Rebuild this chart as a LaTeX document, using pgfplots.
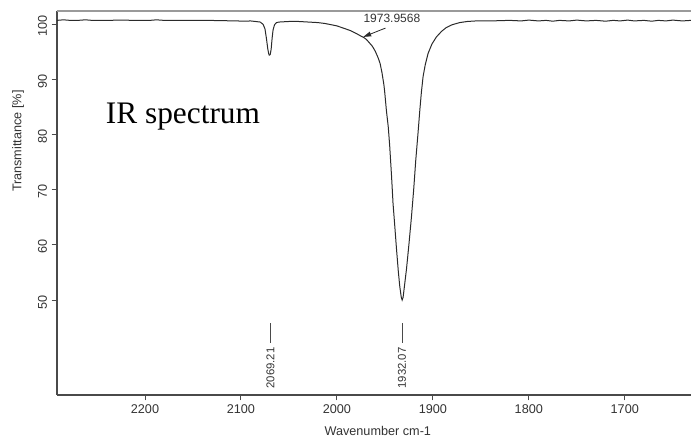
\documentclass[border=0pt]{standalone}
\usepackage{fontspec}
\setmainfont{Liberation Sans}
\newfontfamily\timesfont{Liberation Serif}
\usepackage{pgfplots}
\pgfplotsset{compat=1.18}
\usetikzlibrary{arrows.meta}

\definecolor{curvecol}{HTML}{2A2A2A}
\definecolor{axiscol}{HTML}{4A4A4A}
\definecolor{framegray}{HTML}{9A9A9A}
\definecolor{txt}{HTML}{333333}

\begin{document}
\begin{tikzpicture}
\begin{axis}[
  name=ax,
  scale only axis,
  width=475.5pt, height=288pt,
  x dir=reverse,
  xmin=1631, xmax=2291.7,
  ymin=32.8, ymax=102.4,
  axis x line*=bottom, axis y line*=left,
  axis line style={axiscol, line width=0.8pt, -},
  tick align=outside,
  major tick length=4pt,
  tick style={axiscol, line width=0.7pt},
  xtick={1700,1800,1900,2000,2100,2200},
  ytick={50,60,70,80,90,100},
  /pgf/number format/assume math mode=true,
  /pgf/number format/1000 sep={},
  tick label style={font=\fontsize{9.5}{10}\selectfont, text=txt},
  yticklabel style={rotate=90, anchor=south, xshift=-1.5pt},
  xlabel={Wavenumber cm-1},
  ylabel={Transmittance [\%]},
  every axis x label/.style={at={(axis description cs:0.506,-0.094)}, anchor=center,
    font=\fontsize{9.5}{10}\selectfont, text=txt},
  every axis y label/.style={at={(axis description cs:-0.0615,0.661)}, rotate=90, anchor=center,
    font=\fontsize{9.5}{10}\selectfont, text=txt},
  clip=true,
]
% spectrum
\addplot[curvecol, line width=0.75pt] coordinates {
(2291.7,100.7)(2285,100.8)(2278,100.7)(2270,100.7)(2262,100.8)(2255,100.7)
(2240,100.7)(2225,100.75)(2210,100.7)(2195,100.7)(2188,100.8)(2180,100.7)
(2165,100.7)(2150,100.7)(2135,100.7)(2120,100.65)(2105,100.6)(2095,100.55)
(2090,100.6)(2085,100.5)(2080,100.4)(2077,100.0)(2075,99.2)(2073.5,97.5)
(2072,95.5)(2071,94.6)(2070.5,94.4)(2069.5,94.5)(2068.5,95.5)(2067.5,97.5)
(2066.5,99.0)(2065,99.9)(2063,100.3)(2060,100.4)(2050,100.5)(2040,100.5)
(2030,100.4)(2020,100.3)(2013,100.15)(2007,99.95)(2000,99.7)(1995,99.4)
(1990,99.1)(1986,98.85)(1982,98.5)(1978,98.15)(1975,97.85)(1972,97.6)
(1969,97.2)(1966,96.6)(1963,96.0)(1960,95.1)(1957,93.9)(1955,92.9)
(1953,91.2)(1951,89.0)(1950,87.4)(1948.5,84.5)(1946.5,81.4)(1945,78.0)
(1943,72.3)(1941.5,67.5)(1939.5,63.0)(1938,59.5)(1936,55.2)(1934.5,52.5)
(1933,50.6)(1932,50.0)(1931,50.5)(1929.5,52.7)(1927.5,55.6)(1925,60.0)
(1922.3,65.1)(1920,70.0)(1917.8,75.4)(1915.5,80.2)(1913.6,84.4)(1912,87.6)
(1910.2,90.5)(1908,92.6)(1905,94.7)(1901,96.4)(1896.3,97.7)(1891,98.7)
(1886,99.4)(1880,99.9)(1872,100.3)(1864,100.5)(1855,100.6)(1840,100.6)
(1830,100.65)(1820,100.7)(1808,100.6)(1800,100.75)(1790,100.6)(1782,100.7)
(1775,100.55)(1768,100.7)(1758,100.6)(1750,100.75)(1740,100.6)(1730,100.7)
(1720,100.55)(1712,100.7)(1705,100.6)(1697,100.75)(1690,100.6)(1680,100.7)
(1672,100.55)(1665,100.7)(1657,100.6)(1650,100.75)(1640,100.6)(1631,100.7)
};
% peak markers
\addplot[axiscol, line width=0.7pt] coordinates {(2069.21,45.8)(2069.21,42.2)};
\addplot[axiscol, line width=0.7pt] coordinates {(1932.07,45.8)(1932.07,42.2)};
\node[rotate=90, font=\fontsize{8.5}{9}\selectfont, text=txt] at (axis cs:2069.21,37.7) {2069.21};
\node[rotate=90, font=\fontsize{8.5}{9}\selectfont, text=txt] at (axis cs:1932.07,37.7) {1932.07};
% shoulder annotation
\node[font=\fontsize{9}{10}\selectfont, text=txt] at (axis cs:1942.7,101.1) {1973.9568};
\draw[curvecol, line width=0.6pt, -{Triangle[length=6pt,width=3.5pt]}]
  (axis cs:1949.4,99.3) -- (axis cs:1972.6,97.7);
\node[font=\timesfont\fontsize{23.5}{25}\selectfont, text=black] at (axis cs:2160.4,83.2) {IR spectrum};
% grey top frame
\draw[framegray, line width=1.5pt] (rel axis cs:0,1) -- (rel axis cs:1,1);
\end{axis}
\pgfresetboundingbox
\path[use as bounding box] ([shift={(-42.75pt,-34.5pt)}]ax.south west) rectangle ([shift={(0pt,8.25pt)}]ax.north east);
\end{tikzpicture}
\end{document}
